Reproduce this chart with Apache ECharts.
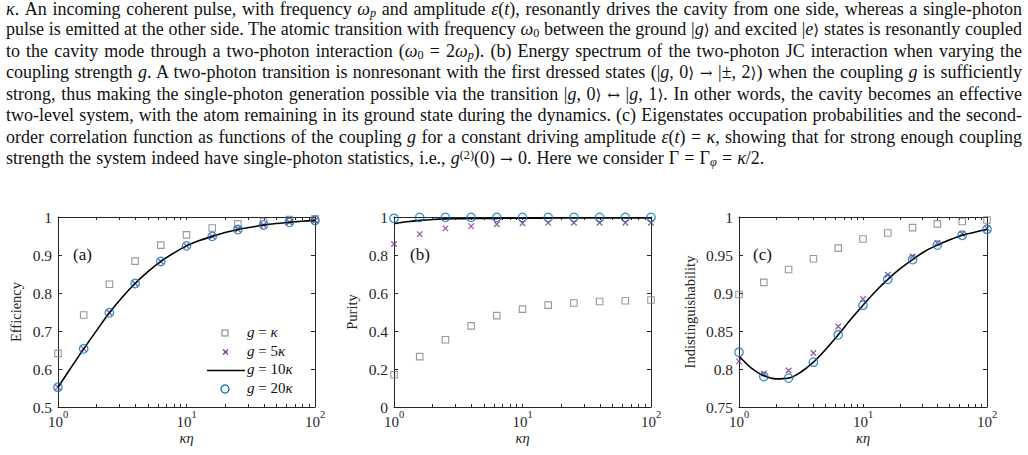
<!DOCTYPE html>
<html>
<head>
<meta charset="utf-8">
<script src="https://cdn.jsdelivr.net/npm/echarts@6/dist/echarts.min.js"></script>
<style>
  html, body { margin:0; padding:0; background:#fff; }
  #wrap { position:relative; width:1028px; height:455px; overflow:hidden; }
  #chart { position:absolute; left:0; top:0; width:1028px; height:455px; }
  #caption { position:absolute; left:6px; top:0px; width:1016px; font-family:"Liberation Serif","Times New Roman",serif; font-size:18px; color:#111; pointer-events:none; }
  #caption .ln { height:21.55px; line-height:21.55px; white-space:nowrap; text-align:justify; text-align-last:justify; }
  #caption .ln.first { height:19px; line-height:19px; }
  #caption .ln.last { text-align-last:left; word-spacing:0.6px; }
  #caption sub, #caption sup { font-size:0.68em; line-height:0; }
  #caption sub { vertical-align:-0.2em; }
  #caption sup { vertical-align:0.45em; }
  #caption .m { font-family:"DejaVu Serif",serif; font-size:0.85em; }
</style>
</head>
<body>
<div id="wrap">
  <div id="chart"></div>
  <div id="caption">
    <div class="ln first"><i>κ</i>. An incoming coherent pulse, with frequency <i>ω<sub>p</sub></i> and amplitude <i>ε</i>(<i>t</i>), resonantly drives the cavity from one side, whereas a single-photon</div>
    <div class="ln">pulse is emitted at the other side. The atomic transition with frequency <i>ω</i><sub>0</sub> between the ground |<i>g</i><span class="m">⟩</span> and excited |<i>e</i><span class="m">⟩</span> states is resonantly coupled</div>
    <div class="ln">to the cavity mode through a two-photon interaction (<i>ω</i><sub>0</sub> = 2<i>ω<sub>p</sub></i>). (b) Energy spectrum of the two-photon JC interaction when varying the</div>
    <div class="ln">coupling strength <i>g</i>. A two-photon transition is nonresonant with the first dressed states (|<i>g</i>, 0<span class="m">⟩</span> <span class="m">→</span> |±, 2<span class="m">⟩</span>) when the coupling <i>g</i> is sufficiently</div>
    <div class="ln">strong, thus making the single-photon generation possible via the transition |<i>g</i>, 0<span class="m">⟩</span> <span class="m">↔</span> |<i>g</i>, 1<span class="m">⟩</span>. In other words, the cavity becomes an effective</div>
    <div class="ln">two-level system, with the atom remaining in its ground state during the dynamics. (c) Eigenstates occupation probabilities and the second-</div>
    <div class="ln">order correlation function as functions of the coupling <i>g</i> for a constant driving amplitude <i>ε</i>(<i>t</i>) = <i>κ</i>, showing that for strong enough coupling</div>
    <div class="ln last">strength the system indeed have single-photon statistics, i.e., <i>g</i><sup>(2)</sup>(0) <span class="m">→</span> 0. Here we consider Γ = Γ<sub><i>φ</i></sub> = <i>κ</i>/2.</div>
  </div>
</div>
<script>
// ---------------- data ----------------
const kEta = [1, 1.585, 2.512, 3.981, 6.310, 10, 15.85, 25.12, 39.81, 63.10, 100];
const kEtaLine = [1, 1.259, 1.585, 1.995, 2.512, 3.162, 3.981, 5.012, 6.310, 7.943, 10,
                  12.59, 15.85, 19.95, 25.12, 31.62, 39.81, 50.12, 63.10, 79.43, 100];
const xTickLabels = [1, 10, 100];
const xTicks = [1, 2, 3, 4, 5, 6, 7, 8, 9, 10, 20, 30, 40, 50, 60, 70, 80, 90, 100];

// (a) Efficiency
const effG1  = [0.641, 0.742, 0.823, 0.884, 0.926, 0.953, 0.971, 0.982, 0.988, 0.993, 0.995];
const effG5  = [0.552, 0.653, 0.748, 0.825, 0.883, 0.924, 0.949, 0.967, 0.979, 0.986, 0.991];
const effG10 = [0.552, 0.603, 0.653, 0.701, 0.748, 0.789, 0.825, 0.856, 0.883, 0.905, 0.924,
                0.938, 0.949, 0.959, 0.967, 0.973, 0.979, 0.983, 0.986, 0.989, 0.991];
const effG20 = [0.552, 0.653, 0.748, 0.825, 0.883, 0.924, 0.949, 0.967, 0.979, 0.986, 0.991];

// (b) Purity
const purG1  = [0.170, 0.265, 0.354, 0.427, 0.481, 0.515, 0.536, 0.547, 0.555, 0.559, 0.563];
const purG5  = [0.858, 0.910, 0.940, 0.952, 0.962, 0.967, 0.969, 0.970, 0.970, 0.970, 0.970];
const purG10 = [0.965, 0.975, 0.982, 0.987, 0.990, 0.991, 0.992, 0.993, 0.993, 0.994, 0.994,
                0.994, 0.994, 0.995, 0.995, 0.995, 0.995, 0.995, 0.995, 0.995, 0.995];
const purG20 = [0.993, 0.998, 0.998, 0.998, 0.998, 0.998, 0.998, 0.998, 0.998, 0.998, 0.998];

// (c) Indistinguishability
const indG1  = [0.898, 0.914, 0.931, 0.945, 0.959, 0.971, 0.979, 0.986, 0.991, 0.994, 0.996];
const indG5  = [0.810, 0.794, 0.798, 0.821, 0.856, 0.892, 0.924, 0.948, 0.966, 0.978, 0.985];
const indG10 = [0.817, 0.801, 0.791, 0.787, 0.788, 0.796, 0.809, 0.826, 0.845, 0.865, 0.884,
                0.902, 0.918, 0.932, 0.944, 0.955, 0.963, 0.970, 0.976, 0.980, 0.984];
const indG20 = [0.822, 0.790, 0.788, 0.809, 0.845, 0.884, 0.918, 0.944, 0.963, 0.976, 0.984];

const legendNames = ['g = κ', 'g = 5κ', 'g = 10κ', 'g = 20κ'];
const yTitles = ['Efficiency', 'Purity', 'Indistinguishability'];
const panelTags = ['(a)', '(b)', '(c)'];
const yRanges = [[0.5, 1, 0.1], [0, 1, 0.2], [0.75, 1, 0.05]];

// ---------------- styling ----------------
const AX = '#262626';
const FONT = '"Liberation Serif","Times New Roman",serif';
const C_SQ = '#808080', C_X = '#7E2F8E', C_O = '#0072BD', C_L = '#000000';
const CROSS = 'path://M0,0L10,10M10,0L0,10';

const grids = [
  { left: 58,  top: 217, width: 257, height: 190 },
  { left: 394, top: 217, width: 257, height: 190 },
  { left: 739, top: 217, width: 248, height: 190 }
];
const yNameGaps = [35, 35, 42];

const zip = (xs, ys) => xs.map((x, i) => [x, ys[i]]);

const xAxes = [], yAxes = [], series = [];
const panels = [
  [effG1, effG5, effG10, effG20],
  [purG1, purG5, purG10, purG20],
  [indG1, indG5, indG10, indG20]
];

grids.forEach((g, i) => {
  xAxes.push({
    gridIndex: i, type: 'log', logBase: 10, min: 1, max: 100, position: 'bottom',
    axisLine: { show: true, onZero: false, lineStyle: { color: AX, width: 1 } },
    axisTick: { show: true, inside: true, length: 3, customValues: xTicks, lineStyle: { color: AX, width: 1 } },
    axisLabel: {
      customValues: xTickLabels, margin: 2, color: AX,
      formatter: v => '{b|10}{s|' + Math.round(Math.log10(v)) + '}',
      rich: {
        b: { fontFamily: FONT, fontSize: 15, color: AX, lineHeight: 20, verticalAlign: 'bottom' },
        s: { fontFamily: FONT, fontSize: 10.5, color: AX, lineHeight: 11, verticalAlign: 'top' }
      }
    },
    splitLine: { show: false }, minorTick: { show: false },
    name: 'κη', nameLocation: 'middle', nameGap: 23,
    nameTextStyle: { fontFamily: FONT, fontStyle: 'italic', fontSize: 14.5, color: AX }
  });
  xAxes.push({
    gridIndex: i, type: 'log', logBase: 10, min: 1, max: 100, position: 'top',
    axisLine: { show: true, onZero: false, lineStyle: { color: AX, width: 1 } },
    axisTick: { show: true, inside: true, length: 3, customValues: xTicks, lineStyle: { color: AX, width: 1 } },
    axisLabel: { show: false }, splitLine: { show: false }
  });
  const [mn, mx, iv] = yRanges[i];
  yAxes.push({
    gridIndex: i, type: 'value', min: mn, max: mx, interval: iv, position: 'left',
    axisLine: { show: true, onZero: false, lineStyle: { color: AX, width: 1 } },
    axisTick: { show: true, inside: true, length: 4, lineStyle: { color: AX, width: 1 } },
    axisLabel: { margin: 6, color: AX, fontFamily: FONT, fontSize: 15.5 },
    splitLine: { show: false },
    name: yTitles[i], nameLocation: 'middle', nameGap: yNameGaps[i],
    nameTextStyle: { fontFamily: FONT, fontSize: 14.5, color: AX }
  });
  yAxes.push({
    gridIndex: i, type: 'value', min: mn, max: mx, interval: iv, position: 'right',
    axisLine: { show: true, onZero: false, lineStyle: { color: AX, width: 1 } },
    axisTick: { show: true, inside: true, length: 4, lineStyle: { color: AX, width: 1 } },
    axisLabel: { show: false }, splitLine: { show: false }
  });

  const xi = i * 2, yi = i * 2;
  const [s1, s5, s10, s20] = panels[i];
  series.push({
    type: 'scatter', name: legendNames[0], xAxisIndex: xi, yAxisIndex: yi,
    data: zip(kEta, s1), symbol: 'rect', symbolSize: 6.5,
    itemStyle: { color: 'rgba(0,0,0,0)', borderColor: C_SQ, borderWidth: 1.1 }, z: 3
  });
  series.push({
    type: 'scatter', name: legendNames[1], xAxisIndex: xi, yAxisIndex: yi,
    data: zip(kEta, s5), symbol: CROSS, symbolSize: 5.5,
    itemStyle: { color: 'rgba(0,0,0,0)', borderColor: C_X, borderWidth: 1.3 }, z: 4
  });
  series.push({
    type: 'line', name: legendNames[2], xAxisIndex: xi, yAxisIndex: yi,
    data: zip(kEtaLine, s10), smooth: 0.35, showSymbol: false, symbol: 'none',
    lineStyle: { color: C_L, width: 1.6 }, z: 5
  });
  series.push({
    type: 'scatter', name: legendNames[3], xAxisIndex: xi, yAxisIndex: yi,
    data: zip(kEta, s20), symbol: 'circle', symbolSize: 8.5,
    itemStyle: { color: 'rgba(0,0,0,0)', borderColor: C_O, borderWidth: 1.3 }, z: 6
  });
});

const graphic = [];
const tagX = [73, 410, 753];
panelTags.forEach((t, i) => graphic.push({
  type: 'text', left: tagX[i], top: 246,
  style: { text: t, font: '17px ' + FONT, fill: '#111' }
}));
const legRows = [333, 352, 370.5, 389];
const legRich = {
  i: { fontFamily: FONT, fontStyle: 'italic', fontSize: 15, fill: '#111' },
  r: { fontFamily: FONT, fontSize: 15, fill: '#111' }
};
const legTexts = ['{i|g}{r| = }{i|κ}', '{i|g}{r| = 5}{i|κ}', '{i|g}{r| = 10}{i|κ}', '{i|g}{r| = 20}{i|κ}'];
legTexts.forEach((t, k) => graphic.push({
  type: 'text', left: 247, top: legRows[k] - 9,
  style: { text: t, rich: legRich, fill: '#111' }
}));
graphic.push({ type: 'rect', shape: { x: 222, y: legRows[0] - 3, width: 6, height: 6 },
  style: { fill: 'none', stroke: C_SQ, lineWidth: 1.1 } });
graphic.push({ type: 'polyline', shape: { points: [[223, legRows[1] - 2.5], [228, legRows[1] + 2.5]] },
  style: { stroke: C_X, lineWidth: 1.3 } });
graphic.push({ type: 'polyline', shape: { points: [[228, legRows[1] - 2.5], [223, legRows[1] + 2.5]] },
  style: { stroke: C_X, lineWidth: 1.3 } });
graphic.push({ type: 'polyline', shape: { points: [[207, legRows[2]], [245, legRows[2]]] },
  style: { stroke: C_L, lineWidth: 1.6 } });
graphic.push({ type: 'circle', shape: { cx: 225, cy: legRows[3], r: 4 },
  style: { fill: 'none', stroke: C_O, lineWidth: 1.3 } });

const chart = echarts.init(document.getElementById('chart'), null, { renderer: 'svg' });
chart.setOption({
  animation: false,
  backgroundColor: 'rgba(0,0,0,0)',
  grid: grids,
  xAxis: xAxes,
  yAxis: yAxes,
  series: series,
  graphic: graphic
});
</script>
</body>
</html>
